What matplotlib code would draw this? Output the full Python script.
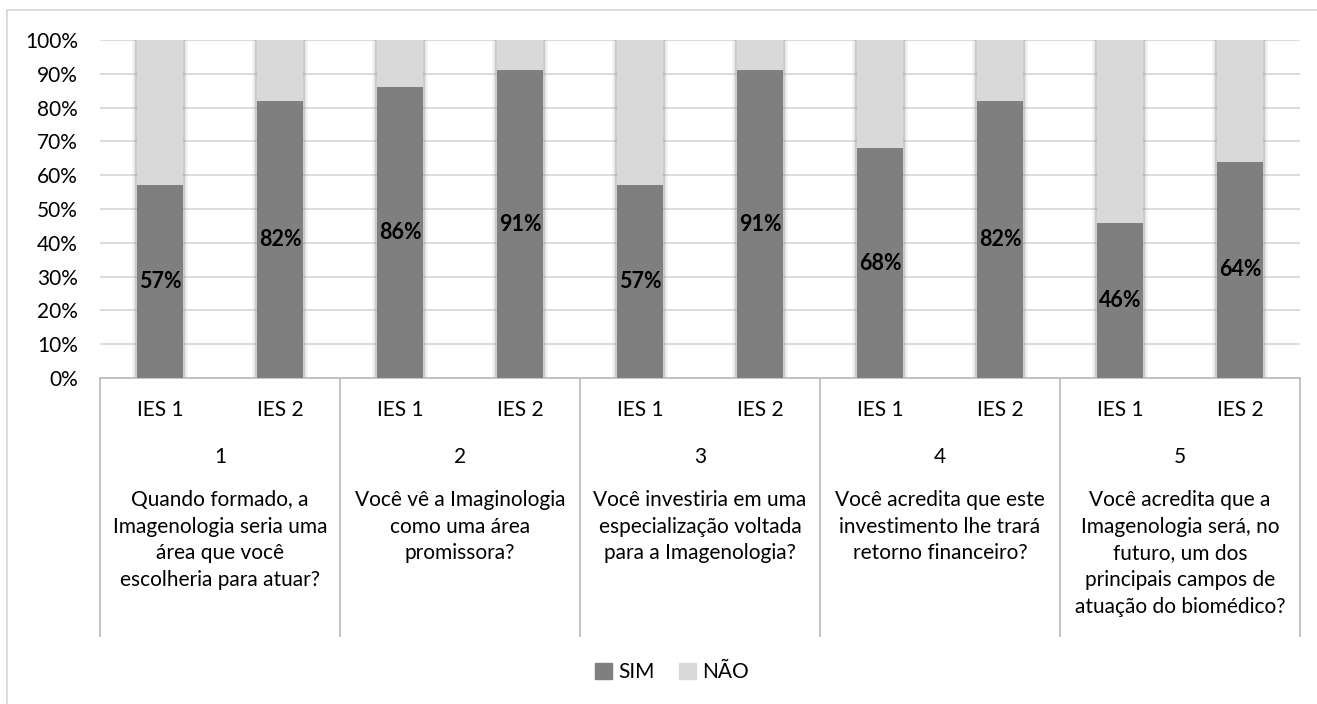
import matplotlib
matplotlib.use('Agg')
import matplotlib.pyplot as plt
from matplotlib.patches import Rectangle, Patch
from matplotlib.transforms import blended_transform_factory

plt.rcParams['font.family'] = ['Lato', 'DejaVu Sans']

# dados
escolas = ['IES 1', 'IES 2'] * 5
grupos = ['1', '2', '3', '4', '5']
perguntas = [
    'Quando formado, a\nImagenologia seria uma\nárea que você\nescolheria para atuar?',
    'Você vê a Imaginologia\ncomo uma área\npromissora?',
    'Você investiria em uma\nespecialização voltada\npara a Imagenologia?',
    'Você acredita que este\ninvestimento lhe trará\nretorno financeiro?',
    'Você acredita que a\nImagenologia será, no\nfuturo, um dos\nprincipais campos de\natuação do biomédico?',
]
sim = [57, 82, 86, 91, 57, 91, 68, 82, 46, 64]
nao = [100 - v for v in sim]

cor_sim = '#7f7f7f'
cor_nao = '#d9d9d9'
fs = 15

W, H = 1317, 704
fig = plt.figure(figsize=(W / 100, H / 100), dpi=100)
ax = fig.add_axes([100 / W, 1 - 378 / H, 1200 / W, 338 / H])

x = list(range(len(sim)))
larg = 0.39

# sombra leve (estilo Excel)
for k, a in [(0.07, 0.10), (0.04, 0.18), (0.02, 0.3)]:
    ax.bar(x, [100] * len(x), width=larg + k, color='#9a9a9a', alpha=a, zorder=2, linewidth=0)

ax.bar(x, sim, width=larg, color=cor_sim, zorder=3, label='SIM')
ax.bar(x, nao, width=larg, bottom=sim, color=cor_nao, zorder=3, label='NÃO')

for xi, v in zip(x, sim):
    ax.text(xi, v / 2, f'{v}%', ha='center', va='center', fontsize=fs + 0.5,
            fontweight='bold', color='black', zorder=4)

ax.set_xlim(-0.5, len(sim) - 0.5)
ax.set_ylim(0, 100)
ax.set_yticks(range(0, 101, 10))
ax.set_yticklabels([f'{v}%' for v in range(0, 101, 10)], fontsize=fs)
ax.tick_params(axis='y', length=0, pad=16)
ax.set_xticks([])
ax.yaxis.grid(True, color='#d9d9d9', linewidth=1.3, zorder=0)
ax.set_axisbelow(True)
for s in ['top', 'right', 'left']:
    ax.spines[s].set_visible(False)
ax.spines['bottom'].set_color('#bfbfbf')
ax.spines['bottom'].set_linewidth(1.3)

# eixo de categorias em vários níveis
tr = blended_transform_factory(ax.transData, ax.transAxes)
px = lambda ypx: (378 - ypx) / 338
for d in [-0.5, 1.5, 3.5, 5.5, 7.5, 9.5]:
    ax.plot([d, d], [0, px(636)], color='#bfbfbf', lw=1.3, transform=tr, clip_on=False)
for xi, e in zip(x, escolas):
    ax.text(xi, px(410), e, transform=tr, ha='center', va='center', fontsize=fs)
for i, (g, q) in enumerate(zip(grupos, perguntas)):
    xc = 2 * i + 0.5
    ax.text(xc, px(457), g, transform=tr, ha='center', va='center', fontsize=fs)
    ax.text(xc, px(490), q, transform=tr, ha='center', va='top', fontsize=fs,
            linespacing=1.42)

handles = [Patch(color=cor_sim, label='SIM'), Patch(color=cor_nao, label='NÃO')]
fig.legend(handles=handles, loc='center', bbox_to_anchor=(672 / W, 1 - 672 / H),
           ncol=2, frameon=False, fontsize=fs, handlelength=0.8, handleheight=0.8,
           handletextpad=0.3, columnspacing=1.2)

fig.patches.append(Rectangle((7 / W, -0.05), 1.1, 1.05 - 10 / H, transform=fig.transFigure,
                             fill=False, edgecolor='#d9d9d9', lw=1.3))

fig.savefig('out.png', dpi=100)
